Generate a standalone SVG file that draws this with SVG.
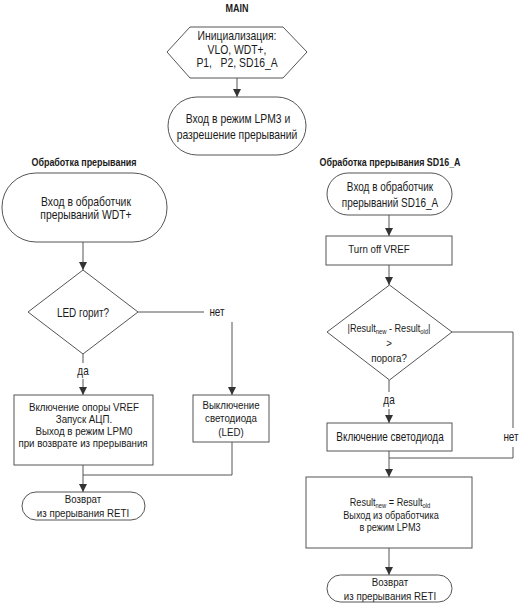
<svg xmlns="http://www.w3.org/2000/svg" width="530" height="604" viewBox="0 0 530 604">
<style>
.s{fill:#fff;stroke:#555;stroke-width:1}
.c{fill:none;stroke:#555;stroke-width:1}
.t{font-family:"Liberation Sans",Arial,sans-serif;font-size:11.7px;fill:#1a1a1a;text-anchor:middle}
.l{font-size:12.5px}
.m{font-size:12px}
.n{font-size:11px}
.h{font-family:"Liberation Sans",Arial,sans-serif;font-weight:bold;font-size:11px;fill:#1a1a1a;text-anchor:middle}
.sub{font-size:7px}
</style>
<defs>
<marker id="a" viewBox="0 0 8 8" refX="8" refY="4" markerWidth="8" markerHeight="8" markerUnits="userSpaceOnUse" orient="auto">
<path d="M0,0 L8,4 L0,8 Z" fill="#333"/>
</marker>
</defs>
<text class="h" transform="matrix(.82 0 0 1 237 12)">MAIN</text>
<text class="h" transform="matrix(.81 0 0 1 84 166)">Обработка прерывания</text>
<text class="h" transform="matrix(.81 0 0 1 390 166)">Обработка прерывания SD16_A</text>
<g id="connectors">
<path class="c" d="M237,78 V97" marker-end="url(#a)"/>
<path class="c" d="M83,242 V270" marker-end="url(#a)"/>
<path class="c" d="M138,312 H204"/>
<path class="c" d="M232,322 V395" marker-end="url(#a)"/>
<path class="c" d="M83,354 V363"/>
<path class="c" d="M83,379 V395" marker-end="url(#a)"/>
<path class="c" d="M83,465 V492" marker-end="url(#a)"/>
<path class="c" d="M232,442 V475 H83"/>
<path class="c" d="M389,215 V236" marker-end="url(#a)"/>
<path class="c" d="M389,265 V285" marker-end="url(#a)"/>
<path class="c" d="M452,332 H513 V428"/>
<path class="c" d="M513,447 V458 H389"/>
<path class="c" d="M389,380 V392"/>
<path class="c" d="M389,409 V423" marker-end="url(#a)"/>
<path class="c" d="M389,451 V477" marker-end="url(#a)"/>
<path class="c" d="M389,548 V575" marker-end="url(#a)"/>
<text class="t m" transform="matrix(.83 0 0 1 217 316)">нет</text>
<text class="t m" transform="matrix(.83 0 0 1 83 375)">да</text>
<text class="t m" transform="matrix(.83 0 0 1 511 441)">нет</text>
<text class="t m" transform="matrix(.83 0 0 1 389 404)">да</text>
</g>
<g id="init">
<polygon class="s" points="167,52 190,27 283,27 307,52 283,78 190,78"/>
<text class="t l" transform="matrix(.83 0 0 1 237 40)">Инициализация:</text>
<text class="t l" transform="matrix(.83 0 0 1 237 54)">VLO, WDT+,</text>
<text class="t l" transform="matrix(.83 0 0 1 237 67)" xml:space="preserve">P1,   P2, SD16_A</text>
</g>
<g id="lpm3">
<rect class="s" x="168" y="97" width="138" height="58" rx="29"/>
<text class="t l" transform="matrix(.83 0 0 1 238 123)">Вход в режим LPM3 и</text>
<text class="t l" transform="matrix(.83 0 0 1 237 139)">разрешение прерываний</text>
</g>
<g id="wdt_entry">
<rect class="s" x="2" y="173" width="165" height="69" rx="34"/>
<text class="t l" transform="matrix(.83 0 0 1 86 206)">Вход в обработчик</text>
<text class="t l" transform="matrix(.83 0 0 1 86 219)">прерываний WDT+</text>
</g>
<g id="led_check">
<polygon class="s" points="83,270 138,312 83,354 28,312"/>
<text class="t m" transform="matrix(.83 0 0 1 83 317)">LED горит?</text>
</g>
<g id="vref_on">
<rect class="s" x="14" y="395" width="139" height="70"/>
<text class="t" transform="matrix(.83 0 0 1 84 411)">Включение опоры VREF</text>
<text class="t" transform="matrix(.83 0 0 1 84 423)">Запуск АЦП.</text>
<text class="t" transform="matrix(.83 0 0 1 84 435)">Выход в режим LPM0</text>
<text class="t" transform="matrix(.83 0 0 1 83 447)">при возврате из прерывания</text>
</g>
<g id="led_off">
<rect class="s" x="193" y="395" width="76" height="47"/>
<text class="t" transform="matrix(.83 0 0 1 231 409)">Выключение</text>
<text class="t" transform="matrix(.83 0 0 1 231 422)">светодиода</text>
<text class="t" transform="matrix(.83 0 0 1 231 436)">(LED)</text>
</g>
<g id="reti1">
<rect class="s" x="22" y="492" width="123" height="28" rx="14"/>
<text class="t" transform="matrix(.83 0 0 1 83 503)">Возврат</text>
<text class="t" transform="matrix(.83 0 0 1 83 517)">из прерывания RETI</text>
</g>
<g id="sd16_entry">
<rect class="s" x="327" y="173" width="125" height="42" rx="21"/>
<text class="t m" transform="matrix(.83 0 0 1 390 191)">Вход в обработчик</text>
<text class="t m" transform="matrix(.83 0 0 1 390 207)">прерываний SD16_A</text>
</g>
<g id="vref_off">
<rect class="s" x="326" y="236" width="126" height="29"/>
<text class="t" transform="matrix(.83 0 0 1 379 253)">Turn off VREF</text>
</g>
<g id="threshold">
<polygon class="s" points="389.5,285 452,332 389.5,380 327,332"/>
<text class="t n" transform="matrix(.83 0 0 1 389 332)">|Result<tspan class="sub" dy="2">new</tspan><tspan dy="-2"> - Result</tspan><tspan class="sub" dy="2">old</tspan><tspan dy="-2">|</tspan></text>
<text class="t" transform="matrix(.83 0 0 1 389 347)">&gt;</text>
<text class="t" transform="matrix(.83 0 0 1 389 362)">порога?</text>
</g>
<g id="led_on">
<rect class="s" x="327" y="423" width="125" height="28"/>
<text class="t m" transform="matrix(.83 0 0 1 390 441)">Включение светодиода</text>
</g>
<g id="store">
<rect class="s" x="306" y="477" width="166" height="71"/>
<text class="t n" transform="matrix(.83 0 0 1 390 506)">Result<tspan class="sub" dy="2">new</tspan><tspan dy="-2"> = Result</tspan><tspan class="sub" dy="2">old</tspan></text>
<text class="t n" transform="matrix(.83 0 0 1 391 519)">Выход из обработчика</text>
<text class="t n" transform="matrix(.83 0 0 1 390 531)">в режим LPM3</text>
</g>
<g id="reti2">
<rect class="s" x="327" y="575" width="125" height="27" rx="13.5"/>
<text class="t" transform="matrix(.83 0 0 1 390 586)">Возврат</text>
<text class="t" transform="matrix(.83 0 0 1 390 600)">из прерывания RETI</text>
</g>
</svg>
